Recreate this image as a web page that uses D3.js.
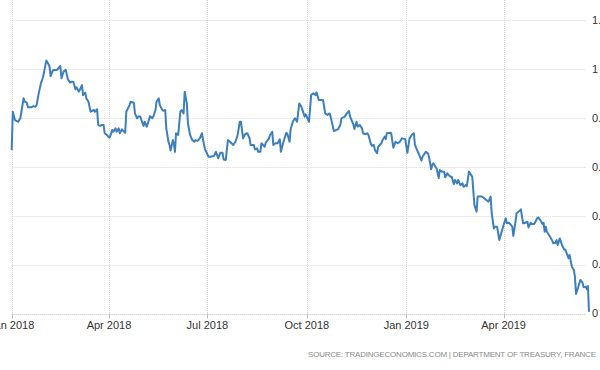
<!DOCTYPE html>
<html>
<head>
<meta charset="utf-8">
<script src="https://cdn.jsdelivr.net/npm/d3@7"></script>
<style>
    body { margin: 0; background: #fff; }
    svg { display: block; font-family: "Liberation Sans", Arial, sans-serif; }
</style>
</head>
<body>
<div id="chart"></div>
<script>
// France 10Y yield
const startDate = new Date(2018, 0, 1);
// calendar days since 1 Jan 2018
const days = [
    0, 1, 3, 6, 8, 9, 11, 12, 14, 15, 18, 20, 22, 23, 25, 27, 29, 30, 32, 34,
    35, 36, 38, 39, 42, 43, 45, 46, 48, 50, 52, 54, 56, 57, 59, 60, 62, 63, 65, 66,
    68, 69, 71, 72, 73, 76, 77, 79, 80, 82, 83, 85, 86, 88, 90,
    91, 93, 94, 96, 97, 99, 100, 102, 103, 105, 106, 109, 110, 113, 114, 116, 117, 119, 120, 122,
    123, 125, 126, 128, 130, 131, 133, 134, 136, 137, 139, 140, 142, 143, 145, 146, 147, 149, 150, 151,
    152, 154, 156, 157, 159, 160, 162, 163, 165, 167, 169, 170, 172, 174, 176, 177, 179, 180, 182, 184,
    187, 189, 191, 193, 195, 196, 198, 200, 202, 205, 207, 209, 211, 212, 214, 216, 218, 220, 221, 224,
    225, 227, 228, 230, 231, 234, 235, 238, 239, 241, 242, 244, 246, 248, 249, 251, 254, 255, 257, 258,
    260, 262, 264, 266, 268, 271,
    272, 275, 277, 279, 281, 282, 284, 286, 288, 290, 292, 294, 295, 298, 300, 302, 304, 305, 308, 310,
    312, 313, 315, 316, 317, 319, 320, 322, 324, 325, 327, 329, 330, 332, 333, 335, 336, 338, 339, 342,
    343, 345, 346, 347, 350, 351, 353, 355, 357, 359, 361, 364,
    366, 368, 370, 372, 373, 375, 377, 379, 380, 383, 385, 386, 388, 389, 390, 392, 393, 395, 396, 398,
    400, 401, 403, 404, 406, 407, 409, 410, 412, 413, 415, 417, 418, 420, 421, 423, 424, 426, 428, 430,
    431, 433, 435, 437, 439, 441, 443, 444, 446, 447, 449, 451, 453,
    455, 457, 458, 460, 461, 463, 464, 466, 467, 470, 471, 473, 474, 477, 478, 480, 481, 483, 484, 486,
    487, 489, 491, 492, 493, 494, 495, 497, 498, 500, 501, 503, 504, 505, 507, 508, 509, 511, 512, 514,
    515, 516, 518, 519, 520, 521, 522, 524, 526, 528, 529, 531, 532, 533, 534
];
const yields = [
    0.668, 0.825, 0.791, 0.784, 0.798, 0.825, 0.880, 0.866, 0.862, 0.843, 0.843, 0.848, 0.845, 0.852, 0.900, 0.941, 0.966, 0.989, 1.034, 1.020,
    1.009, 0.971, 0.993, 0.996, 0.996, 1.002, 1.012, 0.962, 0.989, 0.996, 0.957, 0.944, 0.948, 0.948, 0.917, 0.925, 0.907, 0.914, 0.934, 0.893,
    0.903, 0.880, 0.866, 0.845, 0.825, 0.832, 0.825, 0.835, 0.771, 0.767, 0.771, 0.771, 0.737, 0.730, 0.720,
    0.723, 0.750, 0.743, 0.757, 0.743, 0.757, 0.737, 0.753, 0.747, 0.739, 0.825, 0.852, 0.866, 0.862, 0.818, 0.798, 0.805, 0.805, 0.791, 0.767,
    0.784, 0.764, 0.778, 0.807, 0.798, 0.805, 0.832, 0.866, 0.880, 0.852, 0.835, 0.829, 0.832, 0.757, 0.702, 0.689, 0.666, 0.709, 0.696, 0.661,
    0.737, 0.730, 0.825, 0.832, 0.818, 0.907, 0.859, 0.778, 0.730, 0.709, 0.702, 0.709, 0.706, 0.716, 0.737, 0.709, 0.668, 0.661, 0.641, 0.641,
    0.644, 0.661, 0.635, 0.657, 0.657, 0.630, 0.628, 0.709, 0.702, 0.689, 0.702, 0.730, 0.784, 0.784, 0.716, 0.734, 0.737, 0.716, 0.689, 0.689,
    0.671, 0.675, 0.661, 0.661, 0.696, 0.682, 0.698, 0.716, 0.730, 0.743, 0.689, 0.696, 0.696, 0.712, 0.661, 0.696, 0.739, 0.734, 0.702, 0.753,
    0.784, 0.798, 0.784, 0.859, 0.845, 0.805,
    0.814, 0.784, 0.893, 0.900, 0.893, 0.904, 0.873, 0.873, 0.873, 0.818, 0.812, 0.818, 0.805, 0.746, 0.750, 0.754, 0.771, 0.798, 0.805, 0.818,
    0.828, 0.805, 0.784, 0.774, 0.754, 0.784, 0.764, 0.771, 0.757, 0.737, 0.733, 0.737, 0.730, 0.696, 0.686, 0.689, 0.668, 0.655, 0.682, 0.696,
    0.709, 0.723, 0.713, 0.737, 0.739, 0.737, 0.678, 0.702, 0.696, 0.702, 0.716, 0.713,
    0.657, 0.716, 0.730, 0.737, 0.689, 0.668, 0.648, 0.625, 0.641, 0.661, 0.655, 0.641, 0.590, 0.607, 0.614, 0.600, 0.594, 0.554, 0.587, 0.580,
    0.580, 0.557, 0.573, 0.566, 0.559, 0.559, 0.529, 0.546, 0.532, 0.546, 0.525, 0.532, 0.518, 0.525, 0.521, 0.580, 0.573, 0.559, 0.444, 0.416,
    0.478, 0.478, 0.478, 0.471, 0.464, 0.457, 0.478, 0.410, 0.348, 0.355, 0.355, 0.301, 0.331,
    0.362, 0.389, 0.369, 0.371, 0.366, 0.355, 0.317, 0.375, 0.410, 0.420, 0.426, 0.369, 0.369, 0.375, 0.352, 0.371, 0.366, 0.366, 0.371, 0.389,
    0.393, 0.382, 0.366, 0.371, 0.334, 0.355, 0.334, 0.321, 0.314, 0.298, 0.287, 0.289, 0.300, 0.280, 0.307, 0.294, 0.280, 0.262, 0.262, 0.239,
    0.226, 0.239, 0.194, 0.184, 0.178, 0.150, 0.080, 0.107, 0.137, 0.126, 0.107, 0.110, 0.099, 0.112, 0.007
];
const yTicks = [0, 0.2, 0.4, 0.6, 0.8, 1, 1.2];
const sourceText = "SOURCE: TRADINGECONOMICS.COM | DEPARTMENT OF TREASURY, FRANCE";

const width = 600, height = 370;
const plot = { left: 11.7, right: 589, top: 20, bottom: 313.5 };

const data = days.map((d, i) => ({ date: d3.timeDay.offset(startDate, d), value: yields[i] }));

const svg = d3.select("#chart").append("svg")
    .attr("width", width)
    .attr("height", height);

const x = d3.scaleTime()
    .domain(d3.extent(data, d => d.date))
    .range([plot.left, plot.right]);

const y = d3.scaleLinear()
    .domain([0, 1.2])
    .range([plot.bottom, plot.top]);

const xTicks = x.ticks(d3.timeMonth.every(3));

// vertical grid
svg.append("g")
    .selectAll("line")
    .data(xTicks)
    .enter().append("line")
    .attr("x1", d => Math.round(x(d)) + 0.5)
    .attr("x2", d => Math.round(x(d)) + 0.5)
    .attr("y1", 0)
    .attr("y2", plot.bottom)
    .attr("stroke", "#d6d6d6")
    .attr("stroke-dasharray", "1,1");

// horizontal grid
svg.append("g")
    .selectAll("line")
    .data(yTicks)
    .enter().append("line")
    .attr("x1", plot.left)
    .attr("x2", 586)
    .attr("y1", d => Math.round(y(d)) + 0.5)
    .attr("y2", d => Math.round(y(d)) + 0.5)
    .attr("stroke", d => d === 0 ? "#bdbdbd" : "#d6d6d6")
    .attr("stroke-dasharray", "1,1");

// x axis ticks + labels
const xAxis = svg.append("g");
xAxis.selectAll("line")
    .data(xTicks)
    .enter().append("line")
    .attr("x1", d => Math.round(x(d)) + 0.5)
    .attr("x2", d => Math.round(x(d)) + 0.5)
    .attr("y1", plot.bottom)
    .attr("y2", plot.bottom + 5)
    .attr("stroke", "#c0c0c0");
xAxis.selectAll("text")
    .data(xTicks)
    .enter().append("text")
    .attr("x", d => x(d))
    .attr("y", 329)
    .attr("text-anchor", "middle")
    .attr("fill", "#333")
    .style("font-size", "11px")
    .text(d3.timeFormat("%b %Y"));

// y labels on the right, cut by the page edge
svg.append("g")
    .selectAll("text")
    .data(yTicks)
    .enter().append("text")
    .attr("x", 592)
    .attr("y", d => y(d))
    .attr("dy", "0.35em")
    .attr("fill", "#333")
    .style("font-size", "11px")
    .text(d => String(d));

const line = d3.line()
    .x(d => x(d.date))
    .y(d => y(d.value));

svg.append("path")
    .datum(data)
    .attr("fill", "none")
    .attr("stroke", "#3d7fbd")
    .attr("stroke-width", 2)
    .attr("stroke-linejoin", "round")
    .attr("d", line);

svg.append("text")
    .attr("x", 596)
    .attr("y", 357)
    .attr("text-anchor", "end")
    .attr("fill", "#8a8a8a")
    .attr("textLength", 288)
    .attr("lengthAdjust", "spacing")
    .style("font-size", "8px")
    .text(sourceText);
</script>
</body>
</html>
